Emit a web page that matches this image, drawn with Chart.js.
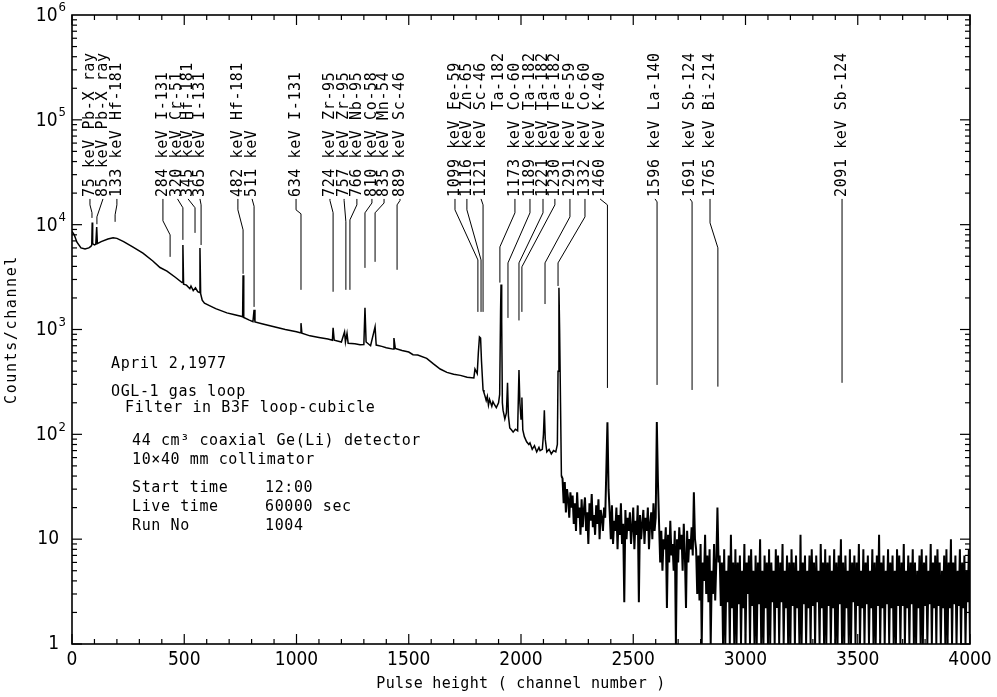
<!DOCTYPE html>
<html>
<head>
<meta charset="utf-8">
<script src="https://cdn.jsdelivr.net/npm/chart.js@4.4.0/dist/chart.umd.min.js"></script>
<style>
html, body { margin: 0; padding: 0; background: #fff; }
</style>
</head>
<body>
<canvas id="espectro" width="997" height="697"></canvas>
<script>
/*Espectro gama - parte continua (canal, contagens)*/
const canais_inicio = [0, 10, 22, 40, 58, 75, 84, 88, 90, 92, 100, 106, 110, 113, 130, 160, 183, 200, 230, 272,
    316, 360, 392, 423, 460, 490, 494, 497, 510, 525, 530, 540, 550, 560, 568, 570, 573, 580, 590, 610,
    640, 690, 720, 757, 760, 762, 765, 790, 806, 811, 815, 850, 900, 950, 1000, 1016, 1020, 1024, 1060, 1100,
    1140, 1160, 1163, 1168, 1200, 1214, 1218, 1225, 1230, 1260, 1283, 1300, 1305, 1310, 1330, 1350, 1355, 1380, 1400, 1430,
    1434, 1440, 1470, 1500, 1519, 1540, 1580, 1610, 1640, 1670, 1700, 1730, 1760, 1790, 1795, 1805, 1810, 1815, 1820, 1824,
    1831, 1835, 1840, 1845, 1850, 1855, 1860, 1865, 1870, 1875, 1880, 1890, 1900, 1905, 1909, 1911, 1914, 1917, 1920, 1928,
    1935, 1940, 1944, 1950, 1958, 1965, 1975, 1985, 1991, 1995, 2000, 2004, 2008, 2015, 2025, 2035, 2040, 2050, 2060, 2070,
    2080, 2085, 2095, 2100, 2104, 2108, 2115, 2125, 2135, 2145, 2155, 2162, 2165, 2169, 2172, 2176, 2180];

const contagens_inicio = [8600, 8000, 6800, 6000, 5850, 6000, 6200, 6400, 10500, 6600, 6400, 6500, 9500, 6600, 6900, 7300, 7500, 7400, 6900, 6100,
    5350, 4500, 3900, 3600, 3150, 2800, 6400, 2700, 2650, 2450, 2600, 2350, 2500, 2300, 2250, 6000, 2200, 1900, 1780, 1700,
    1580, 1440, 1390, 1330, 1320, 3300, 1300, 1230, 1190, 1540, 1180, 1130, 1060, 1000, 950, 930, 1150, 920, 870, 840,
    810, 790, 1040, 790, 760, 950, 760, 920, 740, 730, 715, 720, 1610, 760, 700, 1060, 710, 690, 670, 650,
    830, 660, 630, 610, 575, 570, 530, 470, 420, 390, 375, 365, 350, 345, 420, 380, 600, 850, 830, 500,
    265, 250, 230, 210, 230, 190, 215, 200, 185, 205, 195, 180, 200, 240, 1500, 2690, 1200, 200, 170, 140,
    160, 310, 150, 115, 110, 105, 112, 108, 410, 200, 140, 225, 110, 95, 85, 80, 83, 72, 78, 68,
    75, 70, 72, 100, 170, 90, 68, 72, 65, 70, 68, 80, 400, 2500, 1000, 200, 40];

/*Parte ruidosa: um valor a cada 5 canais, de 2185 ate 4000*/
const canal_ruido_inicial = 2185;
const passo_ruido = 5;
const contagens_ruido = [
    38, 22, 35, 18, 30, 24, 16, 28, 20,
    26, 14, 22, 12, 28, 16, 20, 11, 24, 13, 19, 25, 12, 18, 9, 22, 15, 27, 13, 17, 11, 21, 14, 24, 10, 19, 16, 12, 20,
    16, 45, 130, 30,
    18, 10, 21, 9, 15, 12, 20, 8, 17, 11, 22, 9, 14, 2.5, 19, 10, 16, 12, 18, 9, 13, 20, 8, 15, 11, 21, 2.5, 17, 10, 14,
    19, 9, 16, 12, 20, 8, 14, 18, 10, 22, 12, 16,
    131, 35,
    14, 6, 12, 5, 10, 8, 13, 2.2, 11, 6, 15, 7, 9, 5, 12, 1, 10, 6, 13, 8, 11, 5, 14, 7, 2.2, 12, 6, 10, 8, 13, 7,
    28, 10,
    8, 3, 7, 2.6, 9, 1, 6, 4, 11, 3, 7, 2.5, 8, 1, 5, 3, 9, 2.6, 6,
    20, 6,
    7, 2.3, 6, 1, 8, 1, 5, 2.5, 7, 1, 11, 2.2, 6, 1, 8, 1,
    6, 2.4, 7, 1, 5, 2.2, 9, 1, 6, 3, 7, 1, 8, 2.3, 5, 1,
    7, 1, 6, 2.4, 10, 1, 5, 1, 7, 2.2, 6, 1, 8, 1, 6, 2.5,
    5, 1, 8, 2.2, 7, 1, 6, 2.5, 9, 1, 5, 2.2, 7, 1, 6, 1,
    8, 2.3, 6, 1, 7, 2.2, 5, 1, 11, 1, 6, 2.4, 7, 1, 5, 2.2,
    7, 1, 8, 2.3, 6, 1, 7, 2.5, 5, 1, 9, 2.2, 6, 1, 8, 1,
    6, 2.3, 7, 1, 5, 2.2, 8, 1, 6, 1, 7, 2.4, 10, 1, 6, 1,
    7, 2.2, 5, 1, 8, 1, 6, 2.5, 7, 1, 6, 2.3, 9, 1, 5, 2.2,
    8, 1, 6, 2.4, 7, 1, 5, 2.2, 8, 1, 6, 1, 7, 2.3, 11, 1,
    6, 2.2, 7, 1, 5, 2.4, 8, 1, 6, 2.2, 7, 1, 5, 1, 8, 2.3,
    7, 1, 6, 2.3, 9, 1, 5, 2.2, 7, 1, 6, 2.4, 8, 1, 6, 1,
    5, 2.2, 7, 1, 8, 1, 6, 2.3, 7, 1, 5, 2.4, 9, 1, 6, 2.2,
    7, 1, 8, 2.3, 6, 1, 5, 2.2, 7, 1, 8, 1, 6, 2.2, 10, 1,
    6, 2.4, 7, 1, 5, 2.3, 8, 1, 6, 2.2, 7, 1, 5, 2.5, 8, 1
];

/*Rotulos dos eixos*/
const rotulos_x = ['0', '500', '1000', '1500', '2000', '2500', '3000', '3500', '4000'];
const rotulos_y = ['1', '10', '10^2', '10^3', '10^4', '10^5', '10^6'];
const titulo_x = 'Pulse height ( channel number )';
const titulo_y = 'Counts/channel';

/*Identificacao dos picos: texto, canal da coluna do texto, canal do pico, dobras e fim da linha guia (contagens)*/
const rotulos_picos = ['75 keV Pb-X ray', '85 keV Pb-X ray', '133 keV Hf-181', '284 keV I-131', '320 keV Cr-51',
    '345 keV Hf-181', '365 keV I-131', '482 keV Hf-181', '511 keV', '634 keV I-131',
    '724 keV Zr-95', '757 keV Zr-95', '766 keV Nb-95', '810 keV Co-58', '835 keV Mn-54',
    '889 keV Sc-46', '1099 keV Fe-59', '1116 keV Zn-65', '1121 keV Sc-46', '         Ta-182',
    '1173 keV Co-60', '1189 keV Ta-182', '1221 keV Ta-182', '1230 keV Ta-182', '1291 keV Fe-59',
    '1332 keV Co-60', '1460 keV K-40', '1596 keV La-140', '1691 keV Sb-124', '1765 keV Bi-214',
    '2091 keV Sb-124'];
const canal_rotulo = [80, 138, 200, 405, 470, 517, 570, 739, 802, 998,
    1149, 1212, 1269, 1336, 1390, 1461, 1706, 1759, 1822, 1902,
    1973, 2040, 2098, 2151, 2218, 2285, 2352, 2597, 2753, 2842, 3430];
const canal_alvo = [89, 111, 192, 437, 494, 548, 575, 762, 811, 1020,
    1163, 1220, 1238, 1305, 1350, 1448, 1808, 1822, 1831, null,
    1906, 1942, 1991, 2004, 2107, 2165, 2385, 2606, 2762, 2877, 3430];
const dobra_sup = [15450, 17600, 15450, 10880, 17600, 17600, 17600, 13840, 17600, 13840,
    17000, 17000, 15450, 16100, 16100, 17000, 13840, 13840, 17600, null,
    12970, 12970, 12970, 15450, 11870, 11870, 17600, 17600, 17600, 10400, 17600];
const dobra_inf = [13000, 11870, 12410, 7990, 14500, 14500, 15450, 8920, 15000, 12690,
    13000, 10640, 11110, 12970, 12970, 15450, 4610, 4610, 15450, null,
    6140, 4320, 4320, 3960, 4320, 4320, 15450, 16500, 16500, 6010, 17600];
const fim_linha = [11600, 10100, 10640, 4930, 7160, 8350, 6400, 3400, 1643, 2390,
    2290, 2390, 2390, 3870, 4420, 3710, 1472, 1472, 1472, null,
    2800, 1290, 1220, 1472, 1750, 2600, 277, 296, 265, 285, 310];
const pe_rotulo = 17600;

/*Texto de informacoes da medida*/
const info_linhas = ['April 2,1977', 'OGL-1 gas loop', 'Filter in B3F loop-cubicle',
    '44 cm³ coaxial Ge(Li) detector', '10×40 mm collimator', 'Start time', 'Live time', 'Run No'];
const info_valores = ['12:00', '60000 sec', '1004'];

const FONTE_MONO = '"DejaVu Sans Mono", monospace';
const FONTE_NUM = '"Liberation Sans Narrow", "DejaVu Sans Condensed", sans-serif';

var pontos_inicio = [];
for (let i = 0; i < canais_inicio.length; i++) {
    pontos_inicio.push({ x: canais_inicio[i], y: contagens_inicio[i] });
}
var pontos_ruido = [{ x: canais_inicio[canais_inicio.length - 1], y: contagens_inicio[contagens_inicio.length - 1] }];
for (let i = 0; i < contagens_ruido.length; i++) {
    pontos_ruido.push({ x: canal_ruido_inicial + i * passo_ruido, y: contagens_ruido[i] });
}

function linha(ctx, x1, y1, x2, y2) {
    ctx.beginPath();
    ctx.moveTo(x1, y1);
    ctx.lineTo(x2, y2);
    ctx.stroke();
}

const plugin_moldura = {
    id: 'moldura',
    afterDatasetsDraw(chart) {
        const ctx = chart.ctx;
        const a = chart.chartArea;
        const sx = chart.scales.x;
        const sy = chart.scales.y;
        ctx.save();
        ctx.strokeStyle = '#000';
        ctx.fillStyle = '#000';

        /*moldura e marcas para dentro*/
        ctx.lineWidth = 1.6;
        ctx.strokeRect(a.left, a.top, a.right - a.left, a.bottom - a.top);
        ctx.lineWidth = 1.2;
        for (let c = 0; c <= 4000; c += 100) {
            const px = sx.getPixelForValue(c);
            const t = c % 500 === 0 ? 10 : 5;
            linha(ctx, px, a.bottom, px, a.bottom - t);
            linha(ctx, px, a.top, px, a.top + t);
        }
        for (let d = 0; d < 6; d++) {
            for (let m = 1; m <= 9; m++) {
                const py = sy.getPixelForValue(m * Math.pow(10, d));
                const t = m === 1 ? 10 : 5;
                linha(ctx, a.left, py, a.left + t, py);
                linha(ctx, a.right, py, a.right - t, py);
            }
        }

        /*rotulos do eixo y com expoente*/
        for (let d = 0; d < rotulos_y.length; d++) {
            const py = sy.getPixelForValue(Math.pow(10, d));
            const partes = rotulos_y[d].split('^');
            ctx.textBaseline = 'middle';
            if (partes.length === 1) {
                ctx.font = '19px ' + FONTE_NUM;
                ctx.textAlign = 'right';
                ctx.fillText(partes[0], 59, py);
            } else {
                ctx.font = '13px ' + FONTE_NUM;
                ctx.textAlign = 'right';
                ctx.fillText(partes[1], 66, py - 7);
                const w = ctx.measureText(partes[1]).width;
                ctx.font = '19px ' + FONTE_NUM;
                ctx.fillText(partes[0], 66 - w - 1, py + 1);
            }
        }

        /*titulos*/
        ctx.font = '15px ' + FONTE_MONO;
        ctx.letterSpacing = '0.3px';
        ctx.textAlign = 'center';
        ctx.textBaseline = 'middle';
        ctx.fillText(titulo_x, (a.left + a.right) / 2, 684);
        ctx.save();
        ctx.letterSpacing = '1.6px';
        ctx.translate(12, (a.top + a.bottom) / 2);
        ctx.rotate(-Math.PI / 2);
        ctx.fillText(titulo_y, 0, 0);
        ctx.restore();

        /*identificacao dos picos*/
        ctx.font = '15px ' + FONTE_MONO;
        ctx.letterSpacing = '0.6px';
        ctx.lineWidth = 1;
        const yPe = sy.getPixelForValue(pe_rotulo);
        for (let i = 0; i < rotulos_picos.length; i++) {
            const px = sx.getPixelForValue(canal_rotulo[i]);
            ctx.save();
            ctx.translate(px, yPe - 2);
            ctx.rotate(-Math.PI / 2);
            ctx.textAlign = 'left';
            ctx.textBaseline = 'middle';
            ctx.fillText(rotulos_picos[i], 0, 0);
            ctx.restore();
            if (canal_alvo[i] === null) continue;
            const pa = sx.getPixelForValue(canal_alvo[i]);
            ctx.beginPath();
            ctx.moveTo(px, yPe);
            ctx.lineTo(px, sy.getPixelForValue(dobra_sup[i]));
            ctx.lineTo(pa, sy.getPixelForValue(dobra_inf[i]));
            ctx.lineTo(pa, sy.getPixelForValue(fim_linha[i]));
            ctx.stroke();
        }

        /*bloco de informacoes*/
        ctx.textAlign = 'left';
        ctx.textBaseline = 'middle';
        const info_pos = [[111, 364], [111, 392], [125, 408], [132, 441], [132, 460], [132, 488], [132, 507], [132, 526]];
        for (let i = 0; i < info_linhas.length; i++) {
            ctx.fillText(info_linhas[i], info_pos[i][0], info_pos[i][1]);
        }
        for (let i = 0; i < info_valores.length; i++) {
            ctx.fillText(info_valores[i], 265, info_pos[5 + i][1]);
        }
        ctx.restore();
    }
};

const config_espectro = {
    type: 'line',
    data: {
        datasets: [{
            label: 'Counts/channel',
            data: pontos_inicio,
            borderColor: '#000',
            borderWidth: 1.5,
            pointRadius: 0,
            tension: 0,
            fill: false
        }, {
            label: 'Counts/channel (ruido)',
            data: pontos_ruido,
            borderColor: '#000',
            borderWidth: 2,
            pointRadius: 0,
            tension: 0,
            fill: false
        }]
    },
    options: {
        responsive: false,
        animation: false,
        devicePixelRatio: 1,
        layout: { padding: { top: 15, right: 27, left: 0, bottom: 0 } },
        plugins: { legend: { display: false }, tooltip: { enabled: false } },
        scales: {
            x: {
                type: 'linear',
                min: 0,
                max: 4000,
                grid: { display: false, drawTicks: false },
                border: { display: false },
                ticks: {
                    stepSize: 500,
                    padding: 5,
                    color: '#000',
                    font: { family: FONTE_NUM, size: 19 },
                    maxRotation: 0,
                    callback: (v, i) => rotulos_x[i]
                },
                afterFit: (s) => { s.height = 53; }
            },
            y: {
                type: 'logarithmic',
                min: 1,
                max: 1000000,
                grid: { display: false, drawTicks: false },
                border: { display: false },
                ticks: { display: false },
                afterFit: (s) => { s.width = 72; }
            }
        }
    },
    plugins: [plugin_moldura]
};

const grafico_espectro = new Chart(document.getElementById('espectro'), config_espectro);
</script>
</body>
</html>
